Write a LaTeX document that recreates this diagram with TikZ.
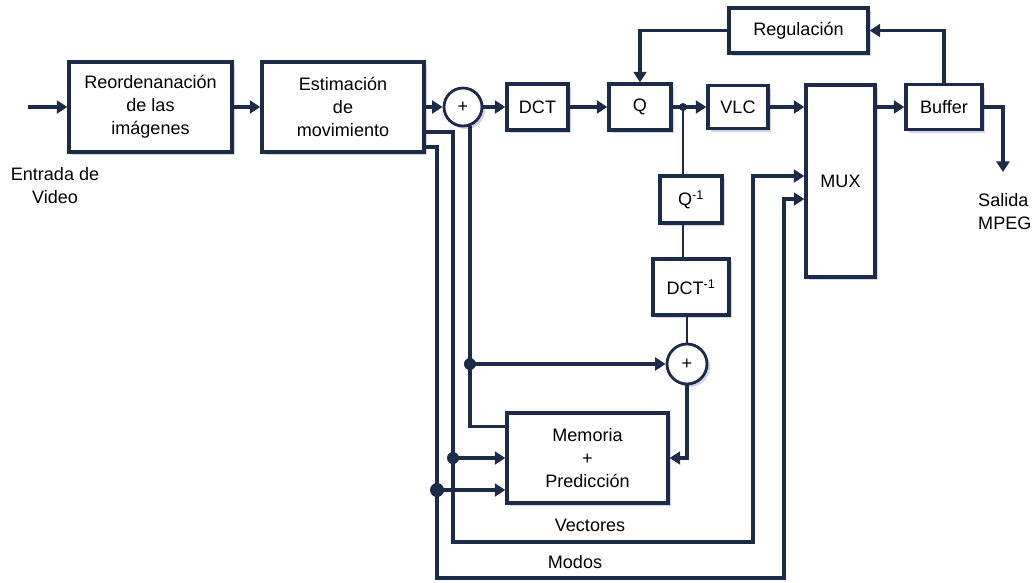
\documentclass[tikz,border=0pt]{standalone}
\usepackage{fontspec}
\setmainfont{Liberation Sans}
\usetikzlibrary{arrows.meta,shadows}
\definecolor{azul}{HTML}{1C2B48}
\definecolor{sombra}{HTML}{BDBDEB}

\begin{document}
\begin{tikzpicture}[x=0.03cm, y=-0.03cm,
		every node/.style={font=\fontsize{15.4}{19.6}\selectfont},
		bloque/.style={draw=azul, line width=2.8pt, fill=white, inner sep=0pt, align=center,
			drop shadow={shadow xshift=0.09cm, shadow yshift=-0.09cm, fill=sombra, opacity=0.7}},
		sumador/.style={bloque, circle, line width=2.4pt},
		linea/.style={draw=azul, line width=2.6pt},
		fina/.style={draw=azul, line width=1.6pt},
		flecha/.style={linea, -{Triangle[length=9pt,width=11pt]}}]
	\useasboundingbox (0,0) rectangle (1034,582);

	\node[bloque, minimum width=4.89cm, minimum height=2.7cm] (reord) at (150.5,107) {Reordenanación\\de las\\imágenes};
	\node[bloque, minimum width=4.86cm, minimum height=2.7cm] (estim) at (343,107) {Estimación\\de\\movimiento};
	\node[sumador, minimum size=1.14cm] (sub) at (463,107) {+};
	\node[bloque, minimum width=1.83cm, minimum height=1.38cm] (dct) at (537.5,107) {DCT};
	\node[bloque, minimum width=1.86cm, minimum height=1.38cm] (q) at (640,107) {Q};
	\node[bloque, minimum width=1.8cm, minimum height=1.29cm] (vlc) at (738,107) {VLC};
	\node[bloque, minimum width=2.07cm, minimum height=5.76cm] (mux) at (840.5,181) {MUX};
	\node[bloque, minimum width=2.28cm, minimum height=1.35cm] (buffer) at (944,107) {Buffer};
	\node[bloque, minimum width=4.17cm, minimum height=1.35cm] (regul) at (798.5,30.5) {Regulación};
	\node[bloque, minimum width=1.86cm, minimum height=1.41cm] (qinv) at (691,199.5) {Q\textsuperscript{-1}};
	\node[bloque, minimum width=2.28cm, minimum height=1.68cm] (dctinv) at (691,287) {DCT\textsuperscript{-1}};
	\node[sumador, minimum size=1.2cm] (add) at (687,364) {+};
	\node[bloque, minimum width=4.83cm, minimum height=2.7cm] (mem) at (587.5,458) {Memoria\\+\\Predicción};

	\node[align=center] (entrada) at (55,186) {Entrada de\\Video};
	\node[align=left, anchor=west, inner sep=0pt] (salida) at (978,212) {Salida\\MPEG};
	\node (vectores) at (590,525) {Vectores};
	\node (modos) at (575,562) {Modos};

	\coordinate (in) at (28,107);
	\coordinate (out) at (1003,172);
	\coordinate (qsplit) at (683,107);
	\coordinate (pred) at (sub.-70 |- add);
	\coordinate (vec1) at (453,542);
	\coordinate (vec2) at (753,542);
	\coordinate (vecm) at (vec1 |- mem.west);
	\coordinate (mod1) at (437,578);
	\coordinate (mod2) at (784,578);
	\coordinate (modm) at (437,490);

	\draw[flecha] (in) -- (reord);
	\draw[flecha] (reord) -- (estim);
	\draw[flecha] (estim) -- (sub);
	\draw[flecha] (sub) -- (dct);
	\draw[flecha] (dct) -- (q);
	\draw[flecha] (q) -- (vlc);
	\draw[flecha] (vlc) -- (vlc -| mux.west);
	\draw[flecha] (mux.east |- buffer) -- (buffer);
	\draw[flecha] (buffer) -| (out);
	\draw[flecha] (buffer) |- (regul);
	\draw[flecha] (regul) -| (q);

	\draw[fina] (qsplit) -- (qsplit |- qinv.north);
	\draw[fina] (qsplit |- qinv.south) -- (qsplit |- dctinv.north);
	\draw[fina] (dctinv.south -| add) -- (add);
	\draw[flecha] (add) |- (mem);

	\draw[linea] ([yshift=-0.45cm]mem.north west) -| (sub.-70);
	\draw[flecha] (pred) -- (add);
	\draw[flecha] ([yshift=-0.75cm]estim.east) -| (vec1) -- (vec2) |- ([yshift=0.15cm]mux.west);
	\draw[flecha] (vecm) -- (mem);
	\draw[flecha] ([yshift=-1.2cm]estim.east) -| (mod1) -- (mod2) |- ([yshift=-0.54cm]mux.west);
	\draw[flecha] (modm) -- (modm -| mem.west);

	\fill[azul] (qsplit) circle (4) (pred) circle (6) (vecm) circle (6) (modm) circle (7);
\end{tikzpicture}
\end{document}
